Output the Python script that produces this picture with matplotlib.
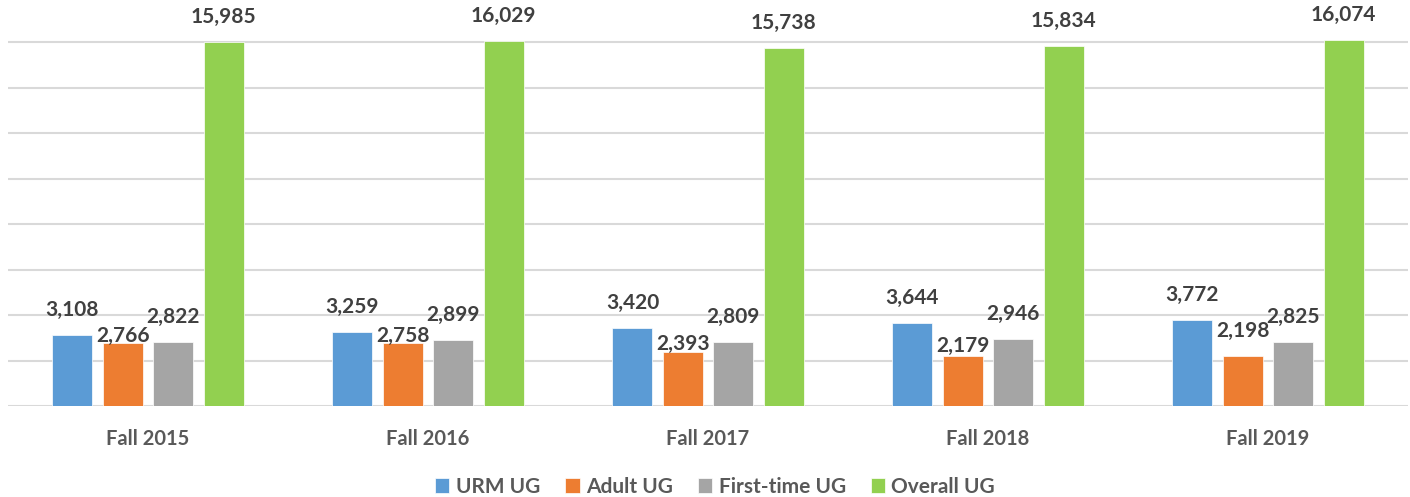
import numpy as np
import matplotlib.pyplot as plt

# data
terms = ["Fall 2015", "Fall 2016", "Fall 2017", "Fall 2018", "Fall 2019"]
urm_ug = [3108, 3259, 3420, 3644, 3772]
adult_ug = [2766, 2758, 2393, 2179, 2198]
first_time_ug = [2822, 2899, 2809, 2946, 2825]
overall_ug = [15985, 16029, 15738, 15834, 16074]

series = [("URM UG", urm_ug, "#5B9BD5"),
          ("Adult UG", adult_ug, "#ED7D31"),
          ("First-time UG", first_time_ug, "#A5A5A5"),
          ("Overall UG", overall_ug, "#92D050")]

# label offsets above bar top (pixels); a few adult labels sit lower
label_offset = np.full((4, 5), 25.0)
label_offset[1, :4] = [7, 7, 8, 10]

plt.rcParams['font.family'] = ['Lato', 'DejaVu Sans']

fig = plt.figure(figsize=(14.1, 4.97), dpi=100)
ax = fig.add_axes([8 / 1410, 91 / 497, 1400 / 1410, 386.75 / 497])

x = np.arange(len(terms))
step = 0.18
width = 0.143

for i, (name, vals, color) in enumerate(series):
    pos = x + (i - 1.5) * step
    bars = ax.bar(pos, vals, width, color=color, label=name, zorder=3,
                  edgecolor="white", linewidth=0.5)
    for j, (b, v) in enumerate(zip(bars, vals)):
        ax.annotate(f"{v:,}", (b.get_x() + b.get_width() / 2, v),
                    xytext=(0, label_offset[i, j]), textcoords="offset pixels",
                    ha="center", va="center", fontsize=15, fontweight="bold",
                    color="#404040", zorder=5, annotation_clip=False)

ax.set_xlim(-0.5, len(terms) - 0.5)
ax.set_ylim(0, 17000)
ax.set_yticks(np.arange(0, 16001, 2000))
ax.yaxis.grid(True, color="#D9D9D9", linewidth=1.5, zorder=0)
ax.tick_params(axis="y", left=False, labelleft=False)
ax.set_xticks(x)
ax.set_xticklabels(terms, fontsize=14.5, fontweight="bold", color="#595959")
ax.tick_params(axis="x", bottom=False, pad=13)
for s in ax.spines.values():
    s.set_visible(False)

leg = fig.legend(loc="center", bbox_to_anchor=(715 / 1410, 1 - 487 / 497),
                 ncol=4, frameon=False, handlelength=0.7, handleheight=0.7,
                 handletextpad=0.3, columnspacing=1.2,
                 prop={"size": 15, "weight": "bold"})
for t in leg.get_texts():
    t.set_color("#595959")

fig.savefig("out.png", dpi=100)
